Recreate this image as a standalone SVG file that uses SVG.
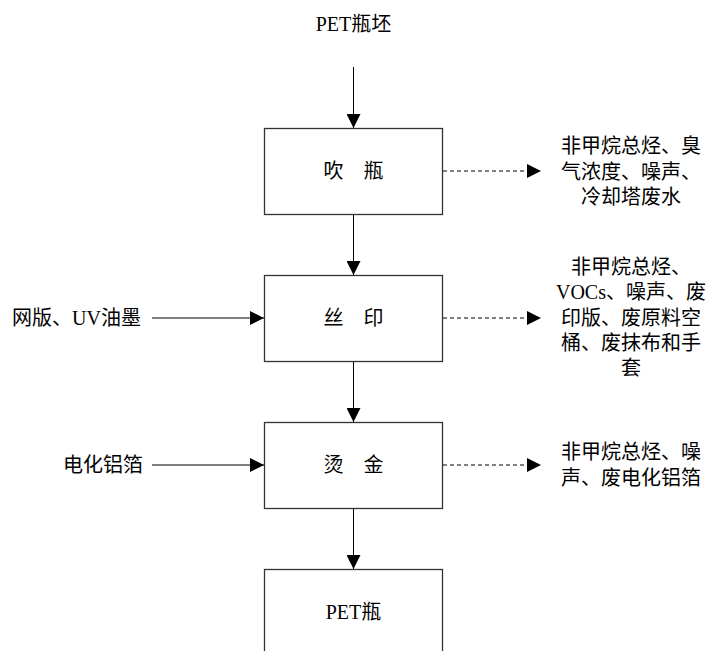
<svg xmlns="http://www.w3.org/2000/svg" width="710" height="651" viewBox="0 0 710 651">
<defs>
<marker id="ah" markerWidth="14" markerHeight="14" refX="14" refY="7" orient="auto" markerUnits="userSpaceOnUse">
<path d="M0,0 L14,7 L0,14 Z" fill="#000"/>
</marker>
</defs>
<style>
text{font-family:"Liberation Serif","Noto Sans CJK SC",serif;font-size:20px;fill:#000;}
.c{text-anchor:middle;dominant-baseline:central;}
.e{text-anchor:end;dominant-baseline:central;}
.box{fill:#fff;stroke:#333;stroke-width:1.3;}
.ln{stroke:#000;stroke-width:1;fill:none;marker-end:url(#ah);}
.dash{stroke:#000;stroke-width:1;fill:none;stroke-dasharray:4,3;marker-end:url(#ah);}
</style>
<rect width="710" height="651" fill="#fff"/>
<g id="connectors">
<line class="ln" x1="353.5" y1="67" x2="353.5" y2="128"/>
<line class="ln" x1="353.5" y1="214" x2="353.5" y2="275"/>
<line class="ln" x1="353.5" y1="361" x2="353.5" y2="422"/>
<line class="ln" x1="353.5" y1="508" x2="353.5" y2="569"/>
<line class="ln" x1="152" y1="318" x2="264" y2="318"/>
<line class="ln" x1="152" y1="465" x2="264" y2="465"/>
<line class="dash" x1="443" y1="171" x2="541" y2="171"/>
<line class="dash" x1="443" y1="318" x2="541" y2="318"/>
<line class="dash" x1="443" y1="465" x2="541" y2="465"/>
</g>
<g id="input-top"><text class="c" x="353.5" y="24">PET瓶坯</text></g>
<g id="blow"><rect class="box" x="264.5" y="128.5" width="178" height="86"/><text class="c" x="353.5" y="171">吹　瓶</text></g>
<g id="print"><rect class="box" x="264.5" y="275.5" width="178" height="86"/><text class="c" x="353.5" y="318">丝　印</text></g>
<g id="stamp"><rect class="box" x="264.5" y="422.5" width="178" height="86"/><text class="c" x="353.5" y="465">烫　金</text></g>
<g id="product"><rect class="box" x="264.5" y="569.5" width="178" height="100"/><text class="c" x="353.5" y="612">PET瓶</text></g>
<g id="in-print"><text class="e" x="141" y="318">网版、UV油墨</text></g>
<g id="in-stamp"><text class="e" x="143" y="465">电化铝箔</text></g>
<g id="out-blow">
<text class="c" x="631" y="146">非甲烷总烃、臭</text>
<text class="c" x="631" y="172">气浓度、噪声、</text>
<text class="c" x="631" y="197">冷却塔废水</text>
</g>
<g id="out-print">
<text class="c" x="631" y="267">非甲烷总烃、</text>
<text class="c" x="631" y="292">VOCs、噪声、废</text>
<text class="c" x="631" y="318">印版、废原料空</text>
<text class="c" x="631" y="343">桶、废抹布和手</text>
<text class="c" x="631" y="368">套</text>
</g>
<g id="out-stamp">
<text class="c" x="631" y="452">非甲烷总烃、噪</text>
<text class="c" x="631" y="478">声、废电化铝箔</text>
</g>
</svg>
